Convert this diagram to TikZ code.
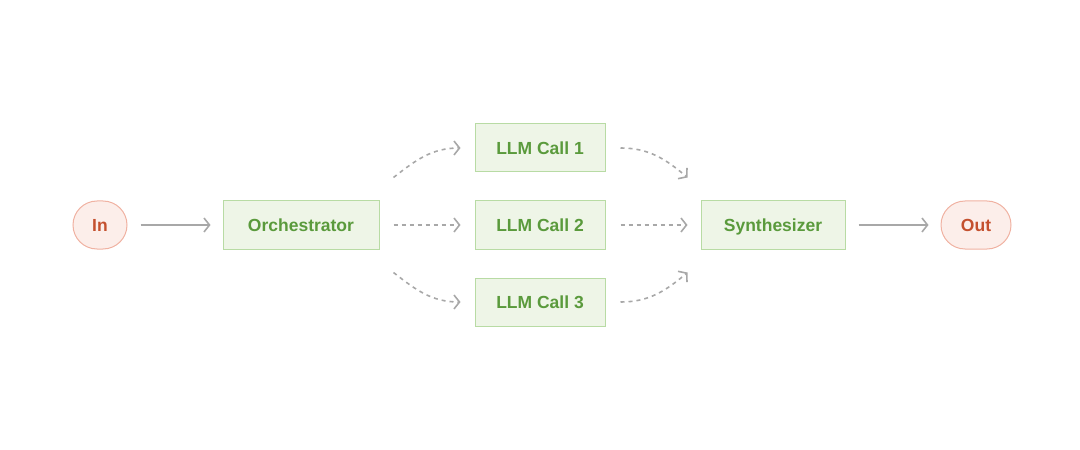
\documentclass[tikz,border=0pt]{standalone}
\usepackage{fontspec}
\setmainfont{Liberation Sans}
\usetikzlibrary{arrows.meta, positioning}

\definecolor{boxfill}{HTML}{EEF5E7}
\definecolor{boxdraw}{HTML}{B8DBA4}
\definecolor{boxtext}{HTML}{5A9A3C}
\definecolor{endfill}{HTML}{FCEEEA}
\definecolor{enddraw}{HTML}{F0B2A2}
\definecolor{endtext}{HTML}{C4502E}
\definecolor{flowgray}{HTML}{A8A8A8}

\begin{document}
\begin{tikzpicture}[
    font=\fontsize{17.5bp}{20bp}\selectfont\bfseries,
    node distance=28bp and 95bp,
    >={Straight Barb[length=5.5bp, width=14bp]},
    llmbox/.style={rectangle, draw=boxdraw, fill=boxfill, text=boxtext, line width=1bp, minimum height=48bp, inner xsep=18bp, text height=12.6bp, text depth=0bp},
    endpoint/.style={rectangle, rounded corners=24bp, draw=enddraw, fill=endfill, text=endtext, line width=1bp, minimum height=48bp, inner xsep=12bp, text height=12.6bp, text depth=0bp},
    arrow/.style={->, draw=flowgray, line width=1.6bp, shorten <=13bp, shorten >=12bp},
    dasharrow/.style={->, draw=flowgray, line width=1.6bp, dash pattern=on 4bp off 4bp}
]
\useasboundingbox (-100bp,-225bp) rectangle (980bp,225bp);
\node[endpoint, minimum width=54bp] (in) at (0,0) {In};
\node[llmbox, minimum width=156bp, right=of in] (orch) {Orchestrator};
\node[llmbox, minimum width=130bp, right=of orch] (call2) {LLM Call 2};
\node[llmbox, minimum width=130bp, above=of call2] (call1) {LLM Call 1};
\node[llmbox, minimum width=130bp, below=of call2] (call3) {LLM Call 3};
\node[llmbox, minimum width=144bp, right=of call2] (synth) {Synthesizer};
\node[endpoint, minimum width=70bp, right=of synth] (out) {Out};
% solid links
\draw[arrow] (in) -- (orch);
\draw[arrow] (synth) -- (out);
% fan out
\draw[dasharrow, shorten <=14bp, shorten >=14bp] (orch) -- (call2);
\draw[dasharrow] ([shift={(14bp,23bp)}]orch.north east) to[out=38, in=180] ([xshift=-14bp]call1.west);
\draw[dasharrow] ([shift={(14bp,-23bp)}]orch.south east) to[out=-38, in=180] ([xshift=-14bp]call3.west);
% fan in
\draw[dasharrow, shorten <=15bp, shorten >=13bp] (call2) -- (synth);
\draw[dasharrow] ([xshift=15bp]call1.east) to[out=0, in=140] ([shift={(-13bp,23bp)}]synth.north west);
\draw[dasharrow] ([xshift=15bp]call3.east) to[out=0, in=-140] ([shift={(-13bp,-23bp)}]synth.south west);
\end{tikzpicture}
\end{document}
